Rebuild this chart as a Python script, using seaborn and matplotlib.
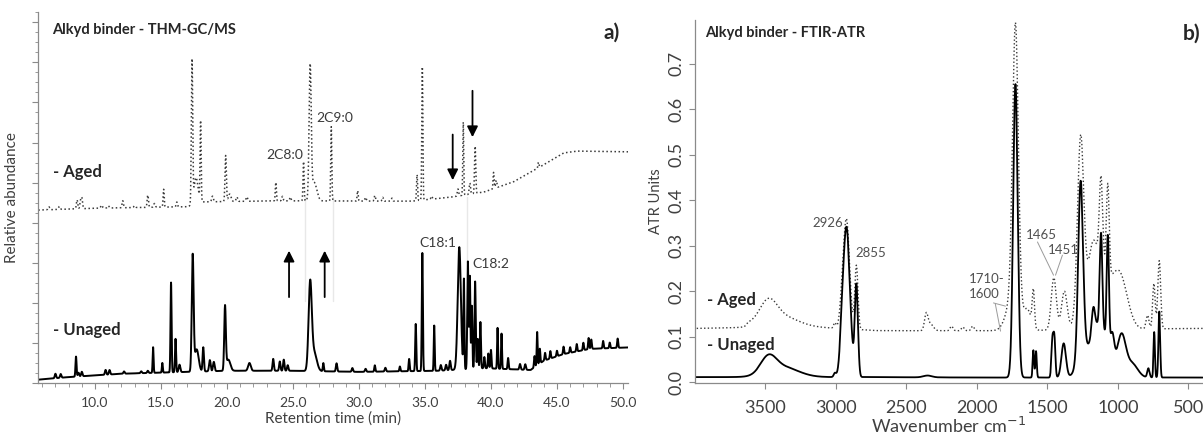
"""
Alkyd binder: THM-GC/MS chromatograms (a) and FTIR-ATR spectra (b), aged vs unaged.
"""

import numpy as np
import pandas as pd
import matplotlib
matplotlib.use("Agg")
import matplotlib.pyplot as plt
from matplotlib.ticker import MultipleLocator, AutoMinorLocator
import seaborn as sns

sns.set_theme(style="white")
plt.rcParams['font.family'] = ['Lato', 'DejaVu Sans']

# ---------------- a) chromatogram: peaks ----------------
# retention time (min), height above baseline, width (min)
UNAGED_RT = [7.0, 7.4, 8.56, 8.75, 9.0, 10.8, 11.1, 12.2, 13.5, 14.0, 14.4, 15.1,
             15.76, 16.1, 16.4, 17.4, 17.7, 18.2, 18.7, 19.0, 19.85, 20.1, 21.7,
             23.5, 24.0, 24.3, 24.6, 26.3, 26.6, 27.3, 28.3, 29.5, 30.5, 31.2,
             32.0, 33.1, 33.8, 34.3, 34.8, 35.7, 36.2, 36.6, 36.9, 37.6, 37.95,
             38.25, 38.4, 38.55, 38.8, 39.0, 39.2, 39.5, 39.8, 40.0, 40.5, 40.8,
             41.3, 42.2, 42.6, 43.3, 43.5, 43.7, 44.1, 44.5, 45.0, 45.5, 46.0,
             46.5, 47.0, 47.4, 47.6, 48.5, 49.0, 49.6]
UNAGED_H = [1.2, 1.0, 5.4, 1.0, 1.2, 1.3, 1.2, 0.6, 0.5, 0.6, 6.9, 2.6,
            24.2, 9.0, 2.0, 31.0, 6.0, 6.5, 3.0, 2.5, 17.0, 3.0, 2.1,
            3.2, 2.5, 3.0, 1.5, 23.0, 5.0, 2.2, 2.2, 1.0, 0.8, 1.7,
            1.0, 1.3, 3.3, 12.7, 31.8, 12.2, 1.5, 1.5, 2.5, 33.0, 24.0,
            29.0, 25.0, 17.0, 23.5, 8.0, 12.5, 3.0, 4.0, 5.0, 11.0, 9.5,
            3.0, 1.5, 1.5, 3.0, 9.0, 4.0, 2.0, 2.0, 1.5, 2.0, 1.5,
            2.0, 2.0, 3.0, 2.5, 2.0, 1.5, 2.5]
UNAGED_W = [0.05, 0.05, 0.04, 0.05, 0.05, 0.05, 0.05, 0.05, 0.05, 0.05, 0.035, 0.035,
            0.04, 0.04, 0.06, 0.07, 0.15, 0.05, 0.06, 0.06, 0.06, 0.15, 0.1,
            0.05, 0.05, 0.05, 0.05, 0.12, 0.2, 0.04, 0.05, 0.05, 0.05, 0.04,
            0.05, 0.04, 0.04, 0.04, 0.04, 0.035, 0.05, 0.05, 0.05, 0.12, 0.035,
            0.045, 0.04, 0.04, 0.045, 0.04, 0.04, 0.04, 0.04, 0.04, 0.035, 0.035,
            0.04, 0.05, 0.05, 0.04, 0.035, 0.04, 0.04, 0.04, 0.04, 0.04, 0.04,
            0.04, 0.04, 0.04, 0.04, 0.04, 0.04, 0.04]
UNAGED_BASE_RT = [5.7, 8.0, 12.0, 17.0, 20.0, 25.0, 30.0, 36.0, 39.5, 43.0, 44.0, 45.5, 47.5, 50.5]
UNAGED_BASE = [0.9, 1.6, 2.5, 3.0, 3.3, 3.3, 3.0, 3.3, 4.0, 3.5, 6.0, 7.8, 9.2, 9.6]

AGED_RT = [6.5, 7.3, 8.64, 8.9, 9.0, 10.5, 11.0, 12.1, 13.0, 14.0, 14.5, 15.2, 16.2,
           17.35, 17.65, 18.0, 18.9, 19.9, 20.2, 20.75, 21.5, 23.7, 24.2, 24.8,
           25.8, 26.3, 26.6, 27.9, 29.9, 30.5, 31.2, 31.8, 32.5, 34.4, 34.8, 35.5,
           37.5, 37.9, 38.4, 38.8, 40.2, 40.4, 43.6]
AGED_H = [0.8, 0.8, 2.4, 2.0, 2.8, 0.8, 0.6, 1.9, 0.5, 3.3, 1.0, 4.8, 1.3,
          38.5, 7.0, 21.5, 1.5, 12.4, 2.0, 1.2, 1.2, 5.0, 1.2, 1.0,
          10.6, 35.4, 5.0, 20.0, 2.8, 1.0, 1.5, 1.0, 0.8, 7.0, 35.9, 0.8,
          1.9, 19.7, 3.0, 12.7, 4.4, 2.0, 1.5]
AGED_W = [0.06, 0.06, 0.05, 0.05, 0.05, 0.06, 0.06, 0.05, 0.06, 0.05, 0.06, 0.04, 0.05,
          0.05, 0.15, 0.04, 0.06, 0.05, 0.1, 0.06, 0.06, 0.04, 0.05, 0.05,
          0.04, 0.08, 0.2, 0.04, 0.04, 0.05, 0.05, 0.05, 0.05, 0.04, 0.04, 0.05,
          0.05, 0.035, 0.05, 0.045, 0.04, 0.05, 0.04]
AGED_BASE_RT = [5.7, 10.0, 15.0, 17.0, 18.0, 24.0, 34.0, 37.0, 39.5, 41.7, 43.6, 45.5, 46.5, 50.5]
AGED_BASE = [46.6, 47.1, 47.4, 47.5, 48.8, 49.1, 49.0, 50.1, 51.5, 54.2, 58.0, 62.0, 62.5, 62.3]

# ---------------- b) FTIR-ATR: bands ----------------
# wavenumber (cm-1), absorbance above baseline, width (cm-1)
UNAGED_WN = [3480, 3380, 3008, 2960, 2926, 2855, 2350, 1727, 1600, 1581, 1465, 1451,
             1385, 1265, 1250, 1175, 1130, 1120, 1072, 1040, 975, 900, 784, 743, 707]
UNAGED_ABS = [0.035, 0.022, 0.008, 0.03, 0.33, 0.2, 0.004, 0.645, 0.06, 0.058, 0.08, 0.085,
              0.075, 0.38, 0.05, 0.06, 0.12, 0.2, 0.24, 0.06, 0.09, 0.03, 0.02, 0.1, 0.145]
UNAGED_WID = [55, 110, 8, 12, 25, 11, 30, 16, 5, 5, 7, 7,
              16, 17, 40, 12, 55, 9, 8, 14, 30, 40, 8, 5, 6]
UNAGED_BASE_WN = [4000, 2800, 2000, 400]
UNAGED_BASE_ABS = [0.011, 0.011, 0.010, 0.010]

AGED_WN = [3480, 3380, 3008, 2960, 2926, 2855, 2360, 2330, 2180, 2100, 2030, 1740, 1727,
           1640, 1600, 1455, 1380, 1265, 1250, 1180, 1130, 1120, 1072, 990, 790, 745, 707]
AGED_ABS = [0.045, 0.02, 0.012, 0.03, 0.24, 0.14, 0.035, 0.015, 0.01, 0.008, 0.01, 0.08, 0.6,
            0.04, 0.08, 0.115, 0.085, 0.37, 0.05, 0.09, 0.13, 0.19, 0.2, 0.12, 0.03, 0.1, 0.15]
AGED_WID = [60, 110, 8, 15, 22, 11, 12, 20, 10, 10, 10, 45, 20,
            25, 8, 18, 20, 22, 40, 30, 60, 12, 10, 55, 10, 9, 10]
AGED_BASE_WN = [4000, 3650, 3620, 3100, 2700, 1850, 400]
AGED_BASE_ABS = [0.118, 0.120, 0.128, 0.120, 0.113, 0.113, 0.118]


def build_trace(x, base_x, base_y, centers, heights, widths):
    order = np.argsort(base_x)
    y = np.interp(x, np.asarray(base_x)[order], np.asarray(base_y)[order])
    for c, h, w in zip(centers, heights, widths):
        y = y + h * np.exp(-0.5 * ((x - c) / w) ** 2)
    return y


rt = np.arange(5.7, 50.5, 0.01)
df_gc = pd.concat([
    pd.DataFrame({'rt': rt, 'abund': build_trace(rt, AGED_BASE_RT, AGED_BASE, AGED_RT, AGED_H, AGED_W), 'Sample': 'Aged'}),
    pd.DataFrame({'rt': rt, 'abund': build_trace(rt, UNAGED_BASE_RT, UNAGED_BASE, UNAGED_RT, UNAGED_H, UNAGED_W), 'Sample': 'Unaged'}),
], ignore_index=True)

wn = np.arange(400, 4001, 1.0)
df_ir = pd.concat([
    pd.DataFrame({'wn': wn, 'atr': build_trace(wn, AGED_BASE_WN, AGED_BASE_ABS, AGED_WN, AGED_ABS, AGED_WID), 'Sample': 'Aged'}),
    pd.DataFrame({'wn': wn, 'atr': build_trace(wn, UNAGED_BASE_WN, UNAGED_BASE_ABS, UNAGED_WN, UNAGED_ABS, UNAGED_WID), 'Sample': 'Unaged'}),
], ignore_index=True)

fig = plt.figure(figsize=(12.03, 4.34), dpi=100)
ax1 = fig.add_axes([0.0316, 0.1175, 0.4904, 0.855])
ax2 = fig.add_axes([0.5777, 0.1175, 0.4223, 0.8365])

SPINE = '#8a8a8a'
TICK = '#404040'

# ---- panel a ----
sns.lineplot(data=df_gc[df_gc['Sample'] == 'Aged'], x='rt', y='abund', ax=ax1,
             color='#3a3a3a', linewidth=1.1, linestyle=':', estimator=None)
sns.lineplot(data=df_gc[df_gc['Sample'] == 'Unaged'], x='rt', y='abund', ax=ax1,
             color='black', linewidth=1.4, estimator=None)
ax1.set_xlim(5.68, 50.38)
ax1.set_ylim(0, 100)
for t in [25.9, 28.0, 38.2]:
    ax1.plot([t, t], [22, 50], color='#e8e8e8', linewidth=1.0, zorder=0)

ax1.set_xticks([10, 15, 20, 25, 30, 35, 40, 45, 50])
ax1.set_xticklabels([f"{v:.1f}" for v in [10, 15, 20, 25, 30, 35, 40, 45, 50]])
ax1.xaxis.set_minor_locator(MultipleLocator(1))
ax1.yaxis.set_major_locator(MultipleLocator(10.8))
ax1.yaxis.set_minor_locator(AutoMinorLocator(4))
ax1.set_yticklabels([])
ax1.tick_params(axis='x', which='major', length=4, width=0.8, color=SPINE, labelsize=10, labelcolor=TICK, pad=6)
ax1.tick_params(axis='x', which='minor', length=3, width=0.6, color=SPINE)
ax1.tick_params(axis='y', which='major', length=4, width=0.8, color=SPINE)
ax1.tick_params(axis='y', which='minor', length=2.5, width=0.6, color=SPINE)
ax1.tick_params(bottom=True, left=True, which='both', direction='out')
for s in ['top', 'right']:
    ax1.spines[s].set_visible(False)
for s in ['left', 'bottom']:
    ax1.spines[s].set_color(SPINE)
    ax1.spines[s].set_linewidth(0.9)
ax1.set_xlabel('Retention time (min)', fontsize=11, color=TICK, labelpad=2)
ax1.set_ylabel('Relative abundance', fontsize=11, color=TICK, labelpad=6)

ax1.text(6.74, 95.1, 'Alkyd binder - THM-GC/MS', fontsize=10.5, fontweight='bold', va='center')
ax1.text(48.5, 94.3, 'a)', fontsize=15, fontweight='bold', va='center')
ax1.text(6.8, 56.9, '- Aged', fontsize=12, fontweight='bold', va='center')
ax1.text(6.8, 14.3, '- Unaged', fontsize=12, fontweight='bold', va='center')
ax1.text(25.8, 61.5, '2C8:0', fontsize=10, color='#3a3a3a', ha='right', va='center')
ax1.text(26.8, 71.4, '2C9:0', fontsize=10, color='#3a3a3a', ha='left', va='center')
ax1.text(37.4, 37.7, 'C18:1', fontsize=10, color='#3a3a3a', ha='right', va='center')
ax1.text(38.6, 32.1, 'C18:2', fontsize=10, color='#3a3a3a', ha='left', va='center')

arrow = dict(arrowstyle='-|>', color='black', lw=1.3, mutation_scale=16)
ax1.annotate('', xy=(37.1, 53.9), xytext=(37.1, 67.7), arrowprops=arrow)
ax1.annotate('', xy=(38.6, 65.5), xytext=(38.6, 79.5), arrowprops=arrow)
ax1.annotate('', xy=(24.7, 36.4), xytext=(24.7, 22.4), arrowprops=arrow)
ax1.annotate('', xy=(27.4, 36.4), xytext=(27.4, 22.4), arrowprops=arrow)

# ---- panel b ----
sns.lineplot(data=df_ir[df_ir['Sample'] == 'Aged'], x='wn', y='atr', ax=ax2,
             color='#3a3a3a', linewidth=1.0, linestyle=':', estimator=None)
sns.lineplot(data=df_ir[df_ir['Sample'] == 'Unaged'], x='wn', y='atr', ax=ax2,
             color='black', linewidth=1.3, estimator=None)
ax2.set_xlim(4000, 397)
ax2.set_ylim(-0.002, 0.796)
ax2.set_xticks([3500, 3000, 2500, 2000, 1500, 1000, 500])
ax2.set_yticks([0.0, 0.1, 0.2, 0.3, 0.4, 0.5, 0.6, 0.7])
ax2.set_yticklabels([f"{v:.1f}" for v in [0.0, 0.1, 0.2, 0.3, 0.4, 0.5, 0.6, 0.7]],
                    rotation=90, va='center')
ax2.tick_params(axis='both', length=4, width=0.8, color=SPINE, labelsize=13, labelcolor=TICK,
                bottom=True, left=True, direction='out')
ax2.tick_params(axis='x', pad=8)
for s in ['top', 'right']:
    ax2.spines[s].set_visible(False)
for s in ['left', 'bottom']:
    ax2.spines[s].set_color(SPINE)
    ax2.spines[s].set_linewidth(0.9)
ax2.set_xlabel('Wavenumber cm$^{-1}$', fontsize=13, color=TICK, labelpad=0)
ax2.set_ylabel('ATR Units', fontsize=10.5, color=TICK, labelpad=4)

ax2.text(3925, 0.767, 'Alkyd binder - FTIR-ATR', fontsize=10.5, fontweight='bold', va='center')
ax2.text(542, 0.767, 'b)', fontsize=15, fontweight='bold', va='center')
ax2.text(3918, 0.18, '- Aged', fontsize=12, fontweight='bold', va='center')
ax2.text(3918, 0.081, '- Unaged', fontsize=12, fontweight='bold', va='center')

LBL = '#505050'
ax2.text(2950, 0.35, '2926', fontsize=9.5, color=LBL, ha='right', va='center')
ax2.text(2862, 0.284, '2855', fontsize=9.5, color=LBL, ha='left', va='center')
ax2.text(2060, 0.21, '1710-\n1600', fontsize=9.5, color=LBL, ha='left', va='center', linespacing=1.3)
ax2.text(1656, 0.323, '1465', fontsize=9.5, color=LBL, ha='left', va='center')
ax2.text(1500, 0.29, '1451', fontsize=9.5, color=LBL, ha='left', va='center')
lead = dict(color='#9a9a9a', linewidth=0.7)
ax2.plot([1883, 1798], [0.174, 0.167], **lead)
ax2.plot([1870, 1833], [0.172, 0.112], **lead)
ax2.plot([1571, 1457], [0.308, 0.235], **lead)
ax2.plot([1394, 1443], [0.279, 0.235], **lead)

for ax in (ax1, ax2):
    leg = ax.get_legend()
    if leg is not None:
        leg.remove()

fig.savefig('out.png', dpi=100)
